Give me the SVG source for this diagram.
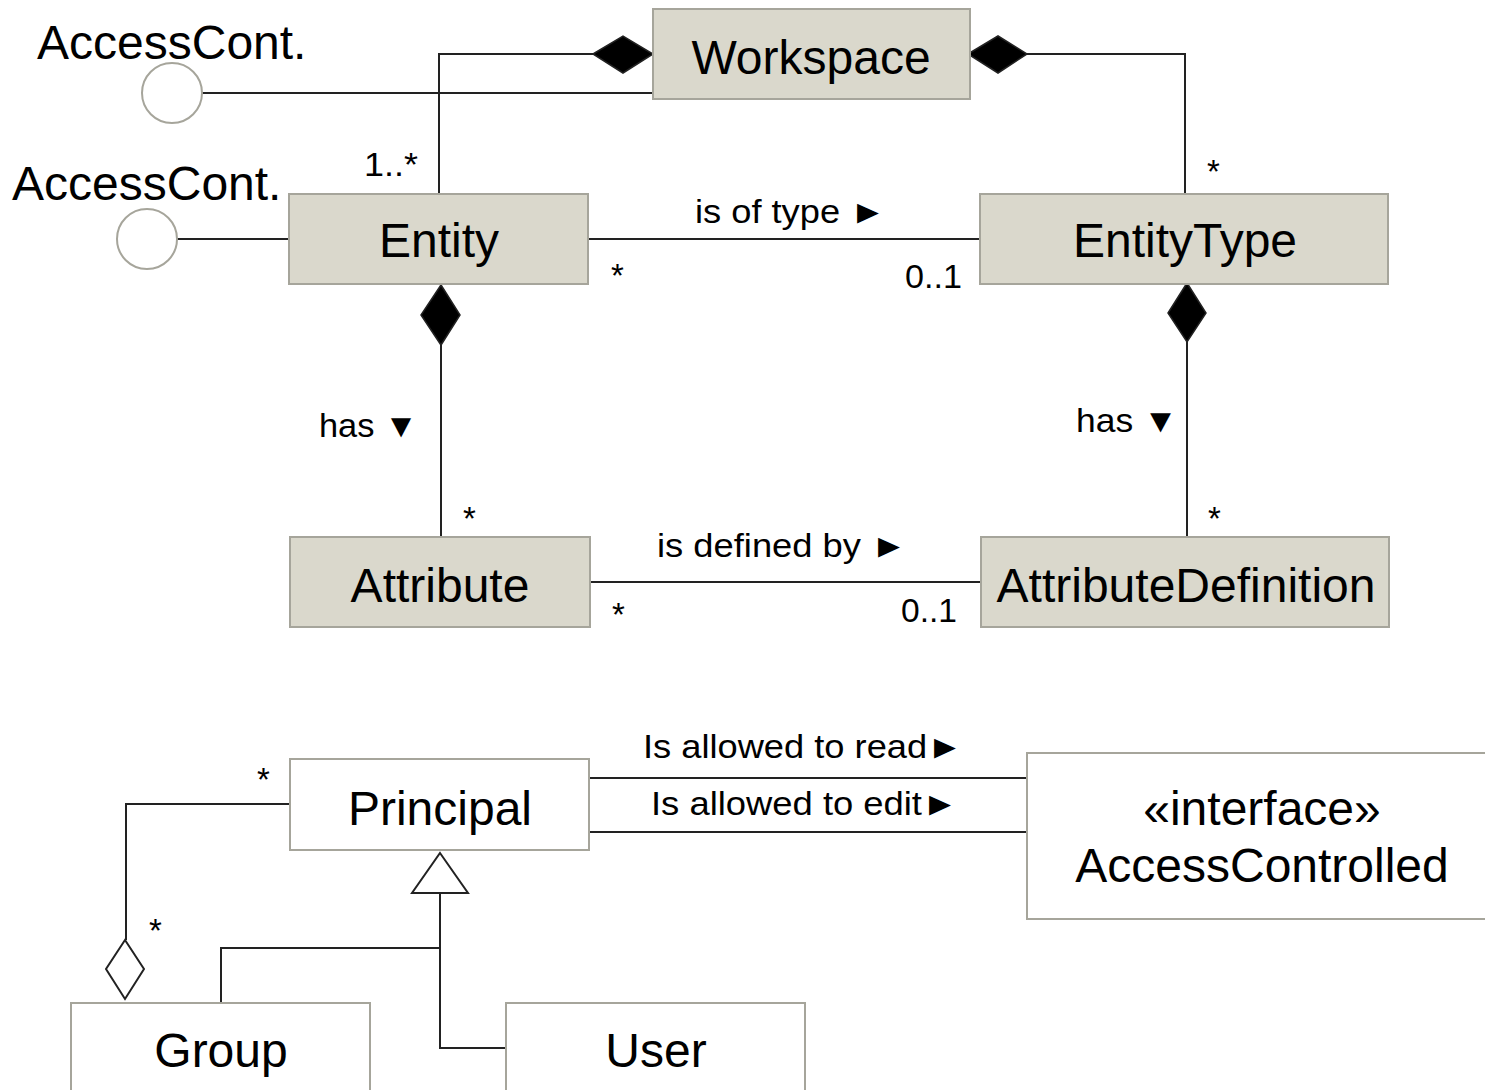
<svg xmlns="http://www.w3.org/2000/svg" width="1485" height="1090" viewBox="0 0 1485 1090">
<style>
.box{fill:#dad8cc;stroke:#a6a59b;stroke-width:2}
.wbox{fill:#ffffff;stroke:#a6a59b;stroke-width:2}
.ln{fill:none;stroke:#222;stroke-width:2}
.lbl{font-family:"Liberation Sans",Arial,sans-serif;font-size:48px;fill:#000;text-anchor:middle}
.sm{font-family:"Liberation Sans",Arial,sans-serif;font-size:33px;fill:#000}
.end{text-anchor:end}
.comp{fill:#000;stroke:#222;stroke-width:1.5}
.agg{fill:#fff;stroke:#222;stroke-width:2}
.iface{fill:#fff;stroke:#a6a59b;stroke-width:2}
</style>
<rect width="1485" height="1090" fill="#fff"/>
<g id="connectors">
  <path class="ln" d="M593,54 H439 V193"/>
  <path class="ln" d="M1027,54 H1185 V193"/>
  <path class="ln" d="M202,93 H653"/>
  <path class="ln" d="M177,239 H289"/>
  <path class="ln" d="M589,239 H980"/>
  <path class="ln" d="M441,345 V536"/>
  <path class="ln" d="M1187,342 V537"/>
  <path class="ln" d="M590,582 H981"/>
  <path class="ln" d="M590,778 H1027"/>
  <path class="ln" d="M590,832 H1027"/>
  <path class="ln" d="M289,804 H126 V940"/>
  <path class="ln" d="M440,893 V1048 H506"/>
  <path class="ln" d="M440,948 H221 V1003"/>
  <polygon class="comp" points="593,54 623,36 653,54 623,73"/>
  <polygon class="comp" points="968,54 998,36 1027,54 998,73"/>
  <polygon class="comp" points="441,285 460,315 441,345 421,315"/>
  <polygon class="comp" points="1187,283 1206,313 1187,342 1168,313"/>
  <polygon class="agg" points="125,940 144,969 125,999 106,969"/>
  <polygon class="agg" points="440,853 468,893 412,893"/>
  <text class="sm" x="364" y="176" textLength="54" lengthAdjust="spacingAndGlyphs">1..*</text>
  <text class="sm" x="1207" y="183">*</text>
  <text class="sm" x="611" y="287">*</text>
  <text class="sm" x="905" y="288" textLength="57" lengthAdjust="spacingAndGlyphs">0..1</text>
  <text class="sm" x="695" y="223" textLength="191" lengthAdjust="spacingAndGlyphs">is of type ►</text>
  <text class="sm" x="319" y="437" textLength="99" lengthAdjust="spacingAndGlyphs">has ▼</text>
  <text class="sm" x="1076" y="432" textLength="102" lengthAdjust="spacingAndGlyphs">has ▼</text>
  <text class="sm" x="463" y="530">*</text>
  <text class="sm" x="1208" y="530">*</text>
  <text class="sm" x="657" y="557" textLength="250" lengthAdjust="spacingAndGlyphs">is defined by ►</text>
  <text class="sm" x="612" y="626">*</text>
  <text class="sm" x="901" y="622" textLength="56" lengthAdjust="spacingAndGlyphs">0..1</text>
  <text class="sm" x="643" y="758" textLength="320" lengthAdjust="spacingAndGlyphs">Is allowed to read►</text>
  <text class="sm" x="651" y="815" textLength="307" lengthAdjust="spacingAndGlyphs">Is allowed to edit►</text>
  <text class="sm" x="257" y="791">*</text>
  <text class="sm" x="149" y="942">*</text>
</g>
<g id="accesscont1">
  <circle class="iface" cx="172" cy="93" r="30"/>
  <text class="lbl" x="37" y="59" style="text-anchor:start">AccessCont.</text>
</g>
<g id="accesscont2">
  <circle class="iface" cx="147" cy="239" r="30"/>
  <text class="lbl" x="12" y="200" style="text-anchor:start">AccessCont.</text>
</g>
<g id="workspace">
  <rect class="box" x="653" y="9" width="317" height="90"/>
  <text class="lbl" x="811" y="74">Workspace</text>
</g>
<g id="entity">
  <rect class="box" x="289" y="194" width="299" height="90"/>
  <text class="lbl" x="439" y="257">Entity</text>
</g>
<g id="entitytype">
  <rect class="box" x="980" y="194" width="408" height="90"/>
  <text class="lbl" x="1185" y="257">EntityType</text>
</g>
<g id="attribute">
  <rect class="box" x="290" y="537" width="300" height="90"/>
  <text class="lbl" x="440" y="602">Attribute</text>
</g>
<g id="attributedefinition">
  <rect class="box" x="981" y="537" width="408" height="90"/>
  <text class="lbl" x="1186" y="602">AttributeDefinition</text>
</g>
<g id="principal">
  <rect class="wbox" x="290" y="759" width="299" height="91"/>
  <text class="lbl" x="440" y="825">Principal</text>
</g>
<g id="accesscontrolled">
  <rect class="wbox" x="1027" y="753" width="470" height="166"/>
  <text class="lbl" x="1262" y="825">«interface»</text>
  <text class="lbl" x="1262" y="882">AccessControlled</text>
</g>
<g id="group">
  <rect class="wbox" x="71" y="1003" width="299" height="100"/>
  <text class="lbl" x="221" y="1067">Group</text>
</g>
<g id="user">
  <rect class="wbox" x="506" y="1003" width="299" height="100"/>
  <text class="lbl" x="656" y="1067">User</text>
</g>
</svg>
